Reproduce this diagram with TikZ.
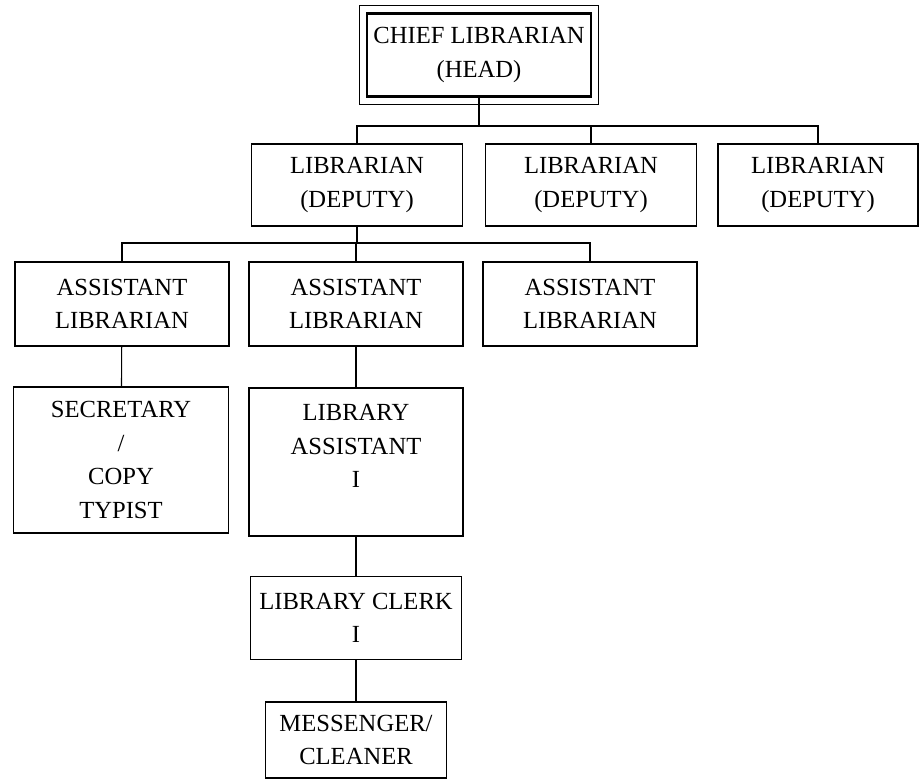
\documentclass[tikz,border=0pt]{standalone}
\usepackage{fontspec}
\setmainfont{Liberation Serif}
\usepackage{tikz}

\begin{document}
\begin{tikzpicture}[x=0.02cm, y=-0.02cm, line width=0.6pt]
            \tikzstyle{every node} = [font=\fontsize{14}{19}\selectfont, align=center, inner sep=0pt]
            \tikzstyle{post} = [draw, minimum width=4.22cm, minimum height=1.64cm]
            \tikzstyle{headpost} = [draw, line width=1.6pt, minimum width=4.48cm, minimum height=1.66cm]
            \useasboundingbox (0,0) rectangle (920,783);

            \node[headpost] (chief) at (479,55) {CHIEF LIBRARIAN\\(HEAD)};
            \draw ([shift={(-0.13cm,0.13cm)}]chief.north west) rectangle ([shift={(0.13cm,-0.13cm)}]chief.south east);

            \node[post] (dep1) at (357,185) {LIBRARIAN\\(DEPUTY)};
            \node[post] (dep2) at (591,185) {LIBRARIAN\\(DEPUTY)};
            \node[post, minimum width=4cm] (dep3) at (818,185) {LIBRARIAN\\(DEPUTY)};

            \node[post, minimum width=4.28cm, minimum height=1.68cm] (asst1) at (122,304) {ASSISTANT\\LIBRARIAN};
            \node[post, minimum width=4.28cm, minimum height=1.68cm] (asst2) at (356,304) {ASSISTANT\\LIBRARIAN};
            \node[post, minimum width=4.28cm, minimum height=1.68cm] (asst3) at (590,304) {ASSISTANT\\LIBRARIAN};

            \node[post, minimum width=4.3cm, minimum height=2.92cm] (secretary) at (121,460) {SECRETARY\\/\\COPY\\TYPIST};
            \node[post, minimum width=4.28cm, minimum height=2.96cm, text depth=0.64cm] (libasst) at (356,462) {LIBRARY\\ASSISTANT\\I};
            \node[post, minimum height=1.66cm] (clerk) at (356,618) {LIBRARY CLERK\\I};
            \node[post, minimum width=3.62cm, minimum height=1.52cm] (messenger) at (356,740) {MESSENGER/\\CLEANER};

            \coordinate (bus1) at (479,126);
            \coordinate (bus2) at (357,243);

            \draw (chief) -- (bus1);
            \draw (dep1) |- (bus1) -| (dep3);
            \draw (dep2) -- (dep2 |- bus1);

            \draw (dep1) -- (bus2);
            \draw (asst1) |- (bus2) -| (asst3);
            \draw (asst2) -- (asst2 |- bus2);

            \draw (asst1) -- (secretary);
            \draw (asst2) -- (libasst);
            \draw (libasst) -- (clerk);
            \draw (clerk) -- (messenger);
\end{tikzpicture}
\end{document}
